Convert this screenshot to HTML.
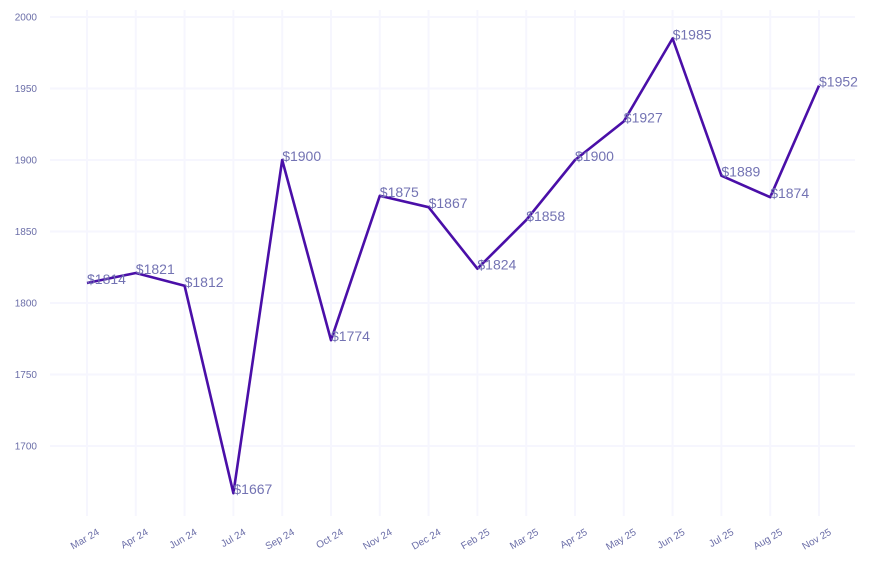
<!DOCTYPE html>
<html><head><style>body{margin:0;background:#fff}</style></head><body>
<svg width="873" height="568" xmlns="http://www.w3.org/2000/svg" font-family="Liberation Sans, sans-serif">
<g stroke="#f6f6fe" stroke-width="2">
<line x1="50" x2="855" y1="17" y2="17"/><line x1="50" x2="855" y1="88.5" y2="88.5"/><line x1="50" x2="855" y1="160" y2="160"/><line x1="50" x2="855" y1="231.5" y2="231.5"/><line x1="50" x2="855" y1="303" y2="303"/><line x1="50" x2="855" y1="374.5" y2="374.5"/><line x1="50" x2="855" y1="446" y2="446"/>
<line x1="87" x2="87" y1="10" y2="516"/><line x1="135.8" x2="135.8" y1="10" y2="516"/><line x1="184.6" x2="184.6" y1="10" y2="516"/><line x1="233.4" x2="233.4" y1="10" y2="516"/><line x1="282.2" x2="282.2" y1="10" y2="516"/><line x1="331" x2="331" y1="10" y2="516"/><line x1="379.8" x2="379.8" y1="10" y2="516"/><line x1="428.6" x2="428.6" y1="10" y2="516"/><line x1="477.4" x2="477.4" y1="10" y2="516"/><line x1="526.2" x2="526.2" y1="10" y2="516"/><line x1="575" x2="575" y1="10" y2="516"/><line x1="623.8" x2="623.8" y1="10" y2="516"/><line x1="672.6" x2="672.6" y1="10" y2="516"/><line x1="721.4" x2="721.4" y1="10" y2="516"/><line x1="770.2" x2="770.2" y1="10" y2="516"/><line x1="819" x2="819" y1="10" y2="516"/>
</g>
<g font-size="10" fill="#6b6ea8" text-anchor="end">
<text x="37" y="20.5">2000</text><text x="37" y="92">1950</text><text x="37" y="163.5">1900</text><text x="37" y="235">1850</text><text x="37" y="306.5">1800</text><text x="37" y="378">1750</text><text x="37" y="449.5">1700</text>
<text transform="translate(100,534) rotate(-30)">Mar 24</text>
<text transform="translate(148.8,534) rotate(-30)">Apr 24</text>
<text transform="translate(197.6,534) rotate(-30)">Jun 24</text>
<text transform="translate(246.4,534) rotate(-30)">Jul 24</text>
<text transform="translate(295.2,534) rotate(-30)">Sep 24</text>
<text transform="translate(344,534) rotate(-30)">Oct 24</text>
<text transform="translate(392.8,534) rotate(-30)">Nov 24</text>
<text transform="translate(441.6,534) rotate(-30)">Dec 24</text>
<text transform="translate(490.4,534) rotate(-30)">Feb 25</text>
<text transform="translate(539.2,534) rotate(-30)">Mar 25</text>
<text transform="translate(588,534) rotate(-30)">Apr 25</text>
<text transform="translate(636.8,534) rotate(-30)">May 25</text>
<text transform="translate(685.6,534) rotate(-30)">Jun 25</text>
<text transform="translate(734.4,534) rotate(-30)">Jul 25</text>
<text transform="translate(783.2,534) rotate(-30)">Aug 25</text>
<text transform="translate(832,534) rotate(-30)">Nov 25</text>
</g>
<polyline fill="none" stroke="#4a0fa8" stroke-width="2.6" stroke-linejoin="round" points="87,283 135.8,273 184.6,285.8 233.4,493.2 282.2,160 331,340.2 379.8,195.8 428.6,207.2 477.4,268.7 526.2,220.1 575,160 623.8,121.4 672.6,38.5 721.4,175.7 770.2,197.2 819,85.6"/>
<g font-size="14" fill="#7373b3">
<text x="87" y="284">$1814</text><text x="135.8" y="274">$1821</text><text x="184.6" y="286.8">$1812</text><text x="233.4" y="494.2">$1667</text><text x="282.2" y="161">$1900</text><text x="331" y="341.2">$1774</text><text x="379.8" y="196.8">$1875</text><text x="428.6" y="208.2">$1867</text><text x="477.4" y="269.7">$1824</text><text x="526.2" y="221.1">$1858</text><text x="575" y="161">$1900</text><text x="623.8" y="122.4">$1927</text><text x="672.6" y="39.5">$1985</text><text x="721.4" y="176.7">$1889</text><text x="770.2" y="198.2">$1874</text><text x="819" y="86.6">$1952</text>
</g>
</svg>
</body></html>
